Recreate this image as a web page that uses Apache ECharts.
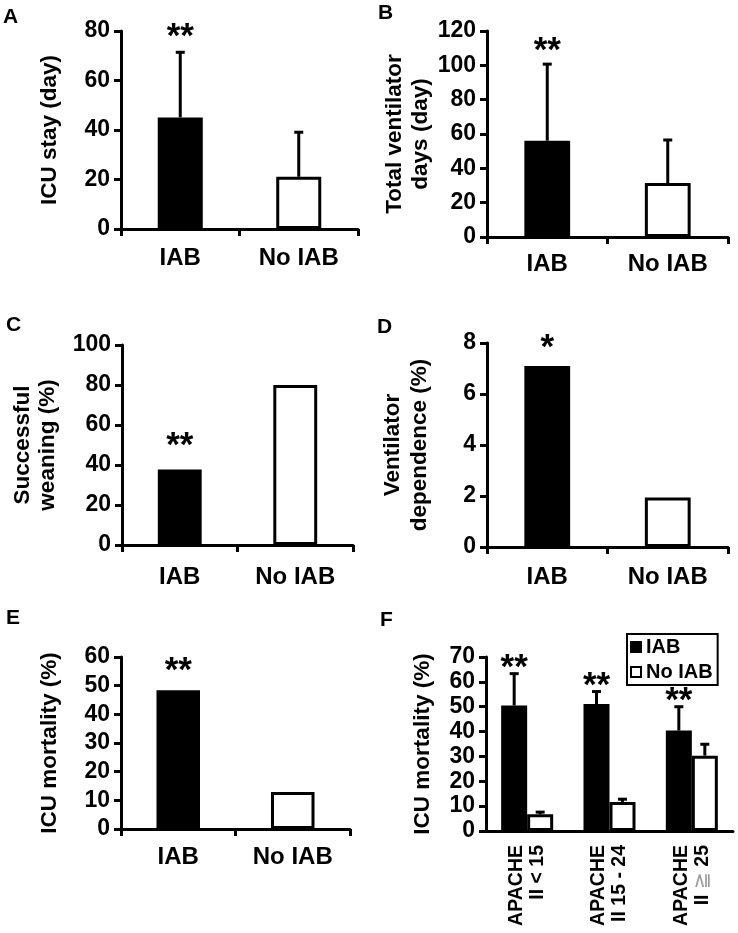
<!DOCTYPE html>
<html><head><meta charset="utf-8">
<script src="https://cdn.jsdelivr.net/npm/echarts@6/dist/echarts.min.js"></script>
<style>html,body{margin:0;padding:0;background:#fff}#c{width:738px;height:933px}</style>
</head><body><div id="c"></div>
<script>
const FONT = "'Liberation Sans', Arial, Helvetica, sans-serif";

// ---- data ----
const groups = ['IAB', 'No IAB'];
const icuStay = [45.1, 21.1];
const icuStayErrTop = [71.4, 39.1];
const ventDays = [56.1, 31.4];
const ventDaysErrTop = [100.7, 56.5];
const weaning = [37.8, 80];
const ventDependence = [7.1, 1.94];
const icuMortality = [48.4, 12.9];
const apacheCats = ['APACHE\nII < 15', 'APACHE\nII 15 - 24', 'APACHE\nII ≧ 25'];
const apacheIAB = [50.5, 51.1, 40.4];
const apacheIABErrTop = [63.3, 56.1, 50.0];
const apacheNoIAB = [6.7, 11.7, 30.3];
const apacheNoIABErrTop = [7.6, 12.8, 34.9];
const starsA = ['**', ''];
const starsB = ['**', ''];
const starsC = ['**', ''];
const starsD = ['*', ''];
const starsE = ['**', ''];
const starsF = ['**', '**', '**'];
const panelLetters = ['A', 'B', 'C', 'D', 'E', 'F'];

// ---- layout ----
const grids = [
  {left: 121, top: 31, width: 237, height: 198},
  {left: 487, top: 31, width: 241, height: 206},
  {left: 122, top: 345, width: 231, height: 200},
  {left: 487, top: 343, width: 241, height: 204},
  {left: 121, top: 657, width: 229, height: 172},
  {left: 486, top: 657, width: 247, height: 174}
];
const letterPos = [[3, 7], [378, 3], [6, 315], [377, 317], [6, 608], [380, 610]];
const xLabelMargins = [17, 15, 20, 18, 16];

const BLACK = '#000', WHITE = '#fff';

function yAx(gi, max, interval, name, gap, lh) {
  return {
    type: 'value', gridIndex: gi, min: 0, max: max, interval: interval,
    name: name, nameLocation: 'middle', nameGap: gap, nameRotate: 90,
    nameTextStyle: {fontSize: 22.5, fontWeight: 'bold', color: BLACK, fontFamily: FONT, lineHeight: lh},
    axisLine: {show: true, lineStyle: {color: BLACK, width: 3}},
    axisTick: {show: true, length: 7, lineStyle: {color: BLACK, width: 3}},
    axisLabel: {fontSize: 23, fontWeight: 'bold', color: BLACK, fontFamily: FONT, margin: 11},
    splitLine: {show: false}
  };
}
function xAx(gi, cats, ticks, extra) {
  return Object.assign({
    type: 'category', gridIndex: gi, data: cats,
    axisLine: {show: true, lineStyle: {color: BLACK, width: 3}},
    axisTick: {show: ticks, length: 7, lineStyle: {color: BLACK, width: 3}},
    axisLabel: {fontSize: 24, fontWeight: 'bold', color: BLACK, fontFamily: FONT,
      margin: xLabelMargins[gi] || 14, interval: 0}
  }, extra || {});
}
function pairBars(gi, vals) {
  return {
    type: 'bar', xAxisIndex: gi, yAxisIndex: gi, barWidth: '38%',
    data: vals.map((v, i) => ({value: v, itemStyle: {color: i === 0 ? BLACK : WHITE}})),
    itemStyle: {borderColor: BLACK, borderWidth: 3}
  };
}
function annot(gi, vals, errTops, stars, dx, starGap) {
  return {
    type: 'custom', xAxisIndex: gi, yAxisIndex: gi, z: 5, silent: true,
    data: vals.map((v, i) => [i, v, errTops ? errTops[i] : v]),
    renderItem: function (params, api) {
      const i = api.value(0);
      const b = api.coord([i, api.value(1)]);
      const t = api.coord([i, api.value(2)]);
      const x = b[0] + dx;
      const ch = [];
      if (errTops) {
        ch.push({type: 'line', shape: {x1: x, y1: b[1], x2: x, y2: t[1]}, style: {stroke: BLACK, lineWidth: 3}});
        ch.push({type: 'line', shape: {x1: x - 4.5, y1: t[1], x2: x + 4.5, y2: t[1]}, style: {stroke: BLACK, lineWidth: 3}});
      }
      const s = stars ? stars[params.dataIndex] : '';
      if (s) {
        ch.push({type: 'text', style: {text: s, x: x, y: t[1] - starGap, align: 'center', verticalAlign: 'middle',
          font: 'bold 35px ' + FONT, fill: BLACK}});
      }
      return {type: 'group', children: ch};
    }
  };
}

const option = {
  animation: false,
  backgroundColor: '#fff',
  title: panelLetters.map((l, i) => ({
    text: l, left: letterPos[i][0], top: letterPos[i][1], padding: 0,
    textStyle: {fontSize: 21, fontWeight: 'bold', color: BLACK, fontFamily: FONT}
  })),
  legend: {
    data: ['IAB', 'No IAB'], orient: 'vertical', left: 627, top: 634,
    backgroundColor: '#fff', borderColor: BLACK, borderWidth: 2, padding: [3, 5, 3, 3],
    itemGap: 5, itemWidth: 10, itemHeight: 10, itemTextGap: 5, icon: 'rect',
    itemStyle: {borderWidth: 2, borderColor: BLACK},
    textStyle: {fontSize: 20, fontWeight: 'bold', color: BLACK, fontFamily: FONT},
    selectedMode: false
  },
  grid: grids.map(g => Object.assign({containLabel: false}, g)),
  xAxis: [
    xAx(0, groups, true), xAx(1, groups, true), xAx(2, groups, true),
    xAx(3, groups, true), xAx(4, groups, true),
    xAx(5, apacheCats, false, {
      axisLabel: {rotate: 90, fontSize: 19.5, fontWeight: 'bold', color: BLACK, fontFamily: FONT,
        margin: 14, interval: 0, lineHeight: 21,
        formatter: v => v.replace('≧', '{g|≧}'),
        rich: {g: {color: '#9a9a9a', fontWeight: 'normal', fontSize: 19.5, fontFamily: FONT}}}
    })
  ],
  yAxis: [
    yAx(0, 80, 20, 'ICU stay (day)', 58, 26),
    yAx(1, 120, 20, 'Total ventilator\ndays (day)', 51, 26),
    yAx(2, 100, 20, 'Successful\nweaning (%)', 62, 25),
    yAx(3, 8, 2, 'Ventilator\ndependence (%)', 54, 27),
    yAx(4, 60, 10, 'ICU mortality (%)', 58, 26),
    yAx(5, 70, 10, 'ICU mortality (%)', 50, 26)
  ],
  series: [
    pairBars(0, icuStay), annot(0, icuStay, icuStayErrTop, starsA, 0, 15),
    pairBars(1, ventDays), annot(1, ventDays, ventDaysErrTop, starsB, 0, 13),
    pairBars(2, weaning), annot(2, weaning, null, starsC, 0, 23),
    pairBars(3, ventDependence), annot(3, ventDependence, null, starsD, 0, 18),
    pairBars(4, icuMortality), annot(4, icuMortality, null, starsE, 0, 19),
    {type: 'bar', name: 'IAB', xAxisIndex: 5, yAxisIndex: 5, barWidth: 26, barGap: '0%', data: apacheIAB,
      itemStyle: {color: BLACK, borderColor: BLACK, borderWidth: 3}},
    {type: 'bar', name: 'No IAB', xAxisIndex: 5, yAxisIndex: 5, barWidth: 26, barGap: '0%', data: apacheNoIAB,
      itemStyle: {color: WHITE, borderColor: BLACK, borderWidth: 3}},
    annot(5, apacheIAB, apacheIABErrTop, starsF, -13, 5),
    annot(5, apacheNoIAB, apacheNoIABErrTop, null, 13, 0)
  ]
};
const chart = echarts.init(document.getElementById('c'), null, {renderer: 'canvas'});
chart.setOption(option);
</script>
</body></html>
